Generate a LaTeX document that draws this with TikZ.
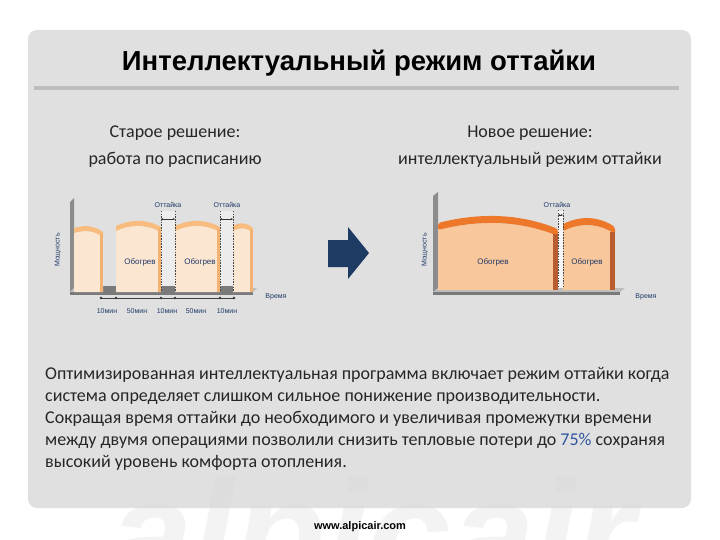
\documentclass[tikz,border=0pt]{standalone}
\usepackage{fontspec}
\setmainfont{Carlito}
\newfontfamily\headfont{Liberation Sans}
\usepackage{xcolor}
\usetikzlibrary{arrows.meta, positioning}
\definecolor{panelgray}{HTML}{E0E0E0}
\definecolor{ruleline}{HTML}{BDBDBD}
\definecolor{navy}{HTML}{1F3A68}
\definecolor{arrowblue}{HTML}{1D3B63}
\definecolor{linkblue}{HTML}{2F55A0}
\definecolor{palepeach}{HTML}{FBE6D2}
\definecolor{paleorange}{HTML}{F8BD7E}
\definecolor{paleside}{HTML}{F3B272}
\definecolor{peach}{HTML}{F9C79C}
\definecolor{hotorange}{HTML}{EE782A}
\definecolor{sidebrown}{HTML}{B95C30}
\definecolor{axisgray}{HTML}{8C8C8C}
\definecolor{floortop}{HTML}{BDBDBD}
\definecolor{floorfront}{HTML}{7A7A7A}
\tikzstyle{chartlbl} = [font=\headfont\fontsize{7}{8}\selectfont, text=navy, inner sep=1pt]
\tikzstyle{heatlbl} = [font=\headfont\fontsize{8}{9}\selectfont, text=navy, inner sep=1pt]
\tikzstyle{subtitle} = [align=center, font=\fontsize{18}{27}\selectfont, text=black!85]

\begin{document}
\begin{tikzpicture}[
        x=1pt, y=-1pt,
        guide/.style={gray!55!black, line width=0.5pt, dash pattern=on 1.5pt off 1.2pt},
        dimarrow/.style={<->, >={Stealth[length=2.2pt, width=2pt]}, line width=0.5pt, black!80},
        timeline/.style={black!75, line width=0.6pt},
    ]
    \useasboundingbox (0,0) rectangle (720,540);
    \fill[white] (0,0) rectangle (720,540);

    % panel and heading
    \fill[panelgray, rounded corners=9pt] (28,30) rectangle (691,508);
    \node[anchor=base, text=gray!30, opacity=0.3, inner sep=0pt] (wm) at (372,585)
        {\headfont\bfseries\itshape\fontsize{150}{150}\selectfont alpicair};
    \node (title) at (359,63) {\headfont\bfseries\fontsize{27.5}{30}\selectfont Интеллектуальный режим оттайки};
    \fill[ruleline] (34,86) rectangle (679,90);

    \node[subtitle] (oldsol) at (175,147) {Старое решение:\\работа по расписанию};
    \node[subtitle] (newsol) at (530,147) {Новое решение:\\интеллектуальный режим оттайки};

    % old chart: axis and floor
    \fill[axisgray] (70,202) -- (74,198) -- (74,288) -- (70,292) -- cycle;
    \fill[floortop] (70,292) -- (74,288) -- (257,288) -- (253,292) -- cycle;
    \fill[floorfront] (70,292) rectangle (253,295);
    \fill[gray!15] (161,211) rectangle (175,288);
    \fill[gray!15] (220,211) rectangle (233,288);
    \foreach \gx/\gy in {103/116, 161/175, 220/233}
        \fill[floorfront] (\gx,286) rectangle (\gy,292);

    \foreach \xa/\xb/\ya/\ym/\yb in {74/103/228/225/232, 116/161/226/219/227, 175/220/226/219/227, 233/253/226/222/228} {
        \fill[palepeach] (\xa,{\ya+5}) .. controls ({\xa+(\xb-\xa)/3},{\ym+5}) and ({\xa+2*(\xb-\xa)/3},{\ym+5}) .. (\xb,{\yb+5}) -- (\xb,292) -- (\xa,292) -- cycle;
        \fill[paleorange] (\xa,\ya) .. controls ({\xa+(\xb-\xa)/3},\ym) and ({\xa+2*(\xb-\xa)/3},\ym) .. (\xb,\yb)
            -- (\xb,{\yb+5}) .. controls ({\xa+2*(\xb-\xa)/3},{\ym+5}) and ({\xa+(\xb-\xa)/3},{\ym+5}) .. (\xa,{\ya+5}) -- cycle;
        \fill[paleside] ({\xb-3},{\yb+2}) rectangle (\xb,292);
    }

    % defrost marks
    \coordinate (oa1) at (161,219);
    \coordinate (ob1) at (175,219);
    \coordinate (oa2) at (220,219);
    \coordinate (ob2) at (233,219);
    \foreach \c in {oa1, ob1, oa2, ob2}
        \draw[guide] (\c) ++(0,-8) -- ++(0,81);
    \draw[dimarrow] (oa1) -- (ob1);
    \draw[dimarrow] (oa2) -- (ob2);
    \node[chartlbl] (def1) at (168,205) {Оттайка};
    \node[chartlbl] (def2) at (227,205) {Оттайка};
    \node[heatlbl] (heat1) at (140,262) {Обогрев};
    \node[heatlbl] (heat2) at (200,262) {Обогрев};
    \node[chartlbl, rotate=90] (pow1) at (58,250) {Мощность};
    \node[chartlbl] (time1) at (276,297) {Время};

    % time scale
    \foreach \tx [count=\i] in {101,116,161,175,220,234}
        \coordinate (t\i) at (\tx,298);
    \draw[timeline] (t1) -- (t6);
    \foreach \i in {1,...,6}
        \fill[black!80] (t\i) circle (1.4);
    \foreach \lx/\lt [count=\i] in {107/10мин, 137/50мин, 167/10мин, 196/50мин, 227/10мин}
        \node[chartlbl] (dur\i) at (\lx,311) {\lt};

    % arrow between the charts
    \fill[arrowblue] (328,240) -- (348,240) -- (348,227) -- (369,253) -- (348,279) -- (348,267) -- (328,267) -- cycle;

    % new chart: axis and floor
    \fill[axisgray] (433,196) -- (438,192) -- (438,288) -- (433,292) -- cycle;
    \fill[floortop] (433,292) -- (438,288) -- (625,288) -- (620,292) -- cycle;
    \fill[floorfront] (433,292) rectangle (620,295);
    \fill[gray!8] (558,211) rectangle (563,288);

    \foreach \xa/\xb/\ya/\ym/\yb in {438/558/223/213/229, 563/615/224/216/227} {
        \fill[peach] (\xa,{\ya+7}) .. controls ({\xa+(\xb-\xa)/3},{\ym+7}) and ({\xa+2*(\xb-\xa)/3},{\ym+7}) .. (\xb,{\yb+7}) -- (\xb,290) -- (\xa,290) -- cycle;
        \fill[hotorange, rounded corners=2pt] (\xa,{\ya+7}) -- (\xa,\ya) .. controls ({\xa+(\xb-\xa)/3},\ym) and ({\xa+2*(\xb-\xa)/3},\ym) .. (\xb,\yb)
            -- (\xb,{\yb+7}) .. controls ({\xa+2*(\xb-\xa)/3},{\ym+7}) and ({\xa+(\xb-\xa)/3},{\ym+7}) .. (\xa,{\ya+7}) -- cycle;
        \fill[sidebrown] ({\xb-5},{\yb+5}) rectangle (\xb,290);
    }

    \coordinate (na1) at (558,215);
    \coordinate (nb1) at (563,215);
    \draw[guide] (na1) ++(0,-5) -- ++(0,78);
    \draw[guide] (nb1) ++(0,-5) -- ++(0,78);
    \draw[dimarrow] (na1) -- (nb1);
    \node[chartlbl] (def3) at (557,205) {Оттайка};
    \node[heatlbl] (heat3) at (493,262) {Обогрев};
    \node[heatlbl] (heat4) at (587,262) {Обогрев};
    \node[chartlbl, rotate=90] (pow2) at (425,250) {Мощность};
    \node[chartlbl] (time2) at (646,297) {Время};

    % text below
    \node[anchor=north west, align=left, inner sep=0pt, text=black!85, font=\fontsize{18}{22}\selectfont] (body) at (45,367)
        {Оптимизированная интеллектуальная программа включает режим оттайки когда\\
         система определяет слишком сильное понижение производительности.\\
         Сокращая время оттайки до необходимого и увеличивая промежутки времени\\
         между двумя операциями позволили снизить тепловые потери до \textcolor{linkblue}{75\%} сохраняя\\
         высокий уровень комфорта отопления.};

    \node (site) at (360,527) {\headfont\bfseries\fontsize{11}{12}\selectfont www.alpicair.com};
\end{tikzpicture}
\end{document}
